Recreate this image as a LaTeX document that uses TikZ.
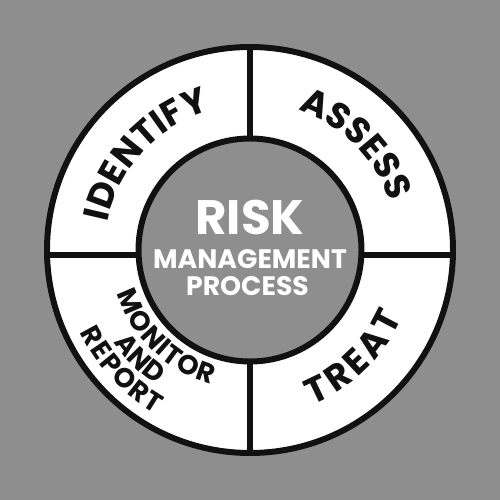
\documentclass[tikz,border=0pt]{standalone}
\usepackage{fontspec}
\setmainfont{Poppins}
\usetikzlibrary{decorations.text}
\definecolor{bggray}{RGB}{142,142,142}
\definecolor{inkblack}{RGB}{17,17,17}

\begin{document}
\begin{tikzpicture}[
    ringline/.style={draw=inkblack, line width=3.4pt},
    arclabel/.style={decorate, decoration={text along path, text color=inkblack,
      text align=fit to path, text={#1}}},
    centertext/.style={text=white, inner sep=0pt, font=\bfseries\fontsize{#1}{#1}\selectfont}
  ]
    \useasboundingbox (-5,-5) rectangle (5,5);
    \fill[bggray] (-5,-5) rectangle (5,5);
    \fill[white] (0,0) circle[radius=4.06];
    % the four dividers of the ring
    \draw[ringline] (0,2.1) -- (0,4.1);
    \draw[ringline] (0,-2.1) -- (0,-4.1);
    \draw[ringline] (-4.1,-0.1) -- (-2.1,-0.1);
    \draw[ringline] (2.1,-0.1) -- (4.1,-0.1);
    \filldraw[ringline, fill=bggray] (0,0) circle[radius=2.23];
    \draw[ringline] (0,0) circle[radius=4.06];
    % ring labels
    \path[arclabel={|\bfseries\fontsize{20.5}{20.5}\selectfont|IDENTIFY}]
      (169:2.90) arc[start angle=169, end angle=107, radius=2.90];
    \path[arclabel={|\bfseries\fontsize{20.5}{20.5}\selectfont|ASSESS}]
      (71:2.96) arc[start angle=71, end angle=20, radius=2.96];
    \path[arclabel={|\bfseries\fontsize{20.5}{20.5}\selectfont|TREAT}]
      (-68:3.34) arc[start angle=-68, end angle=-24, radius=3.34];
    \path[arclabel={|\bfseries\fontsize{15.5}{15.5}\selectfont|MONITOR}]
      (198:2.80) arc[start angle=198, end angle=254, radius=2.80];
    \path[arclabel={|\bfseries\fontsize{15.5}{15.5}\selectfont|AND}]
      (214:3.29) arc[start angle=214, end angle=235, radius=3.29];
    \path[arclabel={|\bfseries\fontsize{15.5}{15.5}\selectfont|REPORT}]
      (206:3.78) arc[start angle=206, end angle=240, radius=3.78];
    % centre
    \node[centertext=27.5] (risk) at (0,0.65) {RISK};
    \node[centertext=15.2] (mgmt) at (0,-0.18) {MANAGEMENT};
    \node[centertext=15.2] (proc) at (-0.05,-0.72) {PROCESS};
  \end{tikzpicture}
\end{document}
